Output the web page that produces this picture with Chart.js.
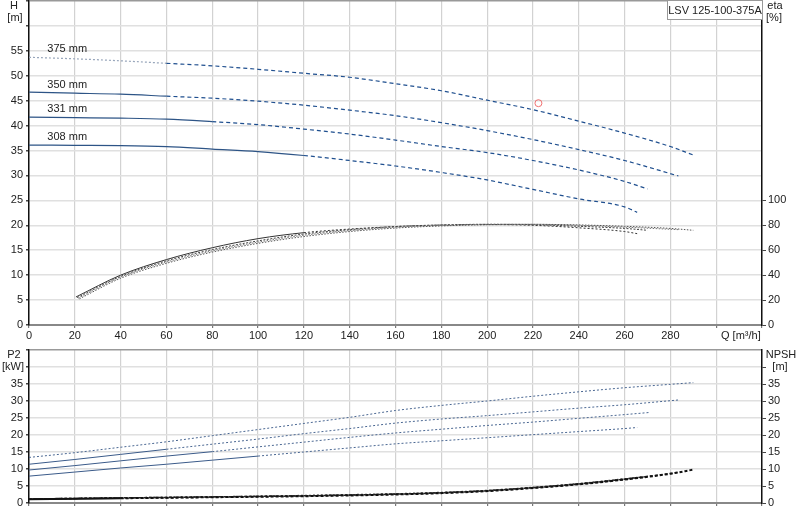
<!DOCTYPE html>
<html>
<head>
<meta charset="utf-8">
<script src="https://cdn.jsdelivr.net/npm/chart.js@4.4.0/dist/chart.umd.min.js"></script>
<style>
body{margin:0;background:#fff;width:800px;height:520px;overflow:hidden;position:relative;font-family:"Liberation Sans",Arial,sans-serif}
#top{position:absolute;left:0;top:0}
#bottom{position:absolute;left:0;top:345px}
#model{position:absolute;left:667px;top:0;width:94px;height:18px;border:1px solid #999;background:#fff;font-size:11px;line-height:18px;text-align:center;color:#222}
</style>
</head>
<body>
<canvas id="top" width="800" height="345"></canvas>
<canvas id="bottom" width="800" height="175"></canvas>
<div id="model">LSV 125-100-375A</div>
<script>
// impeller diameters
const impellers = ["375 mm", "350 mm", "331 mm", "308 mm"];

// head curves, Q [m3/h] -> H [m]
const qH375 = [0,20,40,60,80,100,120,140,160,180,200,220,240,260,280,290];
const h375  = [53.7,53.4,53.0,52.5,52.0,51.3,50.5,49.7,48.4,47.0,45.1,43.2,40.9,38.5,35.8,34.1];
const qH350 = [0,20,40,60,80,100,120,140,160,180,200,220,240,260,283.5];
const h350  = [46.7,46.5,46.3,45.9,45.5,44.9,44.1,43.1,42.0,40.6,39.0,37.2,35.2,33.0,29.9];
const qH331 = [0,20,40,60,80,100,120,140,160,180,200,220,240,260,270];
const h331  = [41.7,41.6,41.5,41.3,40.8,40.2,39.3,38.3,37.1,35.8,34.6,33.0,31.1,28.8,27.3];
const qH308 = [0,20,40,60,80,100,120,140,160,180,200,220,240,260,265.5];
const h308  = [36.1,36.05,36.0,35.8,35.3,34.8,34.0,33.0,31.9,30.6,29.1,27.2,25.3,23.7,22.6];

// efficiency curves [%]
const qE375 = [22,40,60,80,100,120,140,160,180,200,220,240,260,280,290];
const eta375 = [21,37.5,49.5,58.5,65.5,71,75,77.8,79.5,80.5,80.8,80.3,79.2,77.5,76];
const qE350 = [21.5,40,60,80,100,120,140,160,180,200,220,240,260,283.5];
const eta350 = [21.5,38.5,50.5,59.5,66.5,72,75.8,78.5,80,80.8,80.8,80,78.5,76.5];
const qE331 = [21,40,60,80,100,120,140,160,180,200,220,240,260,270];
const eta331 = [22,39,51.5,60.5,67.5,73,76.5,79,80.3,80.8,80.5,79.2,77.5,76];
const qE308 = [20.5,40,60,80,100,120,140,160,180,200,220,240,260,265.5];
const eta308 = [22.5,40,52.5,62,69.3,74.1,77,79,80.2,80.6,80,78,75,73.3];

// shaft power P2 [kW]
const qP375 = [0,20,40,60,80,100,120,140,160,180,200,220,240,260,280,290];
const p375  = [13.4,14.8,16.4,18.0,19.8,21.6,23.4,25.2,27.2,28.7,30.0,31.4,32.7,33.9,34.9,35.4];
const qP350 = [0,20,40,60,80,100,120,140,160,180,200,220,240,260,283.5];
const p350  = [11.4,12.8,14.3,15.8,17.3,18.8,20.4,21.9,23.5,24.7,25.7,26.8,27.9,28.9,30.3];
const qP331 = [0,20,40,60,80,100,120,140,160,180,200,220,240,260,270.5];
const p331  = [9.7,11.0,12.4,13.8,15.1,16.5,17.9,19.3,20.6,21.7,22.8,23.8,24.9,26.0,26.6];
const qP308 = [0,20,40,60,80,100,120,140,160,180,200,220,240,260,265.5];
const p308  = [7.9,9.1,10.3,11.4,12.6,13.8,15.0,16.2,17.4,18.3,19.2,20.1,21.0,21.9,22.2];

// NPSH [m]
const qN375 = [0,40,80,120,160,180,200,220,240,260,280,290];
const n375  = [1.1,1.4,1.7,2.0,2.5,2.9,3.5,4.4,5.5,6.9,8.6,9.8];
const qN350 = [0,40,80,120,160,180,200,220,240,260,283.5];
const n350  = [1.1,1.4,1.7,2.1,2.6,3.0,3.6,4.5,5.6,7.0,9.0];
const qN331 = [0,40,80,120,160,180,200,220,240,260,270];
const n331  = [1.2,1.5,1.8,2.1,2.6,3.0,3.6,4.5,5.6,7.0,7.8];
const qN308 = [0,40,80,120,160,180,200,220,240,260,265.5];
const n308  = [1.2,1.5,1.8,2.2,2.7,3.1,3.7,4.6,5.7,7.1,7.5];

// duty point
const dutyQ = [222.4];
const dutyH = [44.5];

// curve labels
const labelQ = [8, 8, 8, 8];
const labelH = [55.4, 48.2, 43.4, 37.8];

const FONT = {family: '"Liberation Sans", Arial, sans-serif', size: 11};
const TXT = "#222";

function curve(qs, vs, axis, st) {
  return {
    data: qs.map((q, i) => ({x: q, y: vs[i]})),
    yAxisID: axis,
    borderColor: st.color,
    borderWidth: st.width || 1.2,
    borderDash: st.dash,
    pointRadius: 0,
    fill: false,
    cubicInterpolationMode: "monotone",
    segment: {
      borderDash: c => {
        const x = c.p0.parsed.x;
        if (st.lightTo && x < st.lightTo) return [2, 2];
        if (x < (st.solidTo || 0)) return [];
        return st.dash;
      },
      borderColor: c => {
        const x = c.p0.parsed.x;
        if (st.lightTo && x < st.lightTo) return "#98a6bb";
        if (x < (st.solidTo || 0)) return st.solidColor || st.color;
        return st.color;
      }
    }
  };
}

const textPlugin = {
  id: "texts",
  afterDraw(chart, args, opts) {
    const c = chart.ctx;
    c.save();
    c.font = '11px "Liberation Sans", Arial, sans-serif';
    c.fillStyle = TXT;
    c.textBaseline = "middle";
    (opts.items || []).forEach(t => {
      c.textAlign = t.align || "center";
      c.fillText(t.text, t.x, t.y);
    });
    if (opts.curveLabels) {
      c.textAlign = "left";
      impellers.forEach((name, i) => {
        c.fillText(name, chart.scales.x.getPixelForValue(labelQ[i]), chart.scales.y.getPixelForValue(labelH[i]));
      });
    }
    c.restore();
  }
};

const blue = {color: "#1f4f8f", dash: [4, 3], solidColor: "#2d5486"};
const topDatasets = [
  curve(qH375, h375, "y", {...blue, lightTo: 45}),
  curve(qH350, h350, "y", {...blue, solidTo: 45}),
  curve(qH331, h331, "y", {...blue, solidTo: 62}),
  curve(qH308, h308, "y", {...blue, solidTo: 103}),
  curve(qE375, eta375, "eta", {color: "#555", dash: [1.5, 1.5], width: 1}),
  curve(qE350, eta350, "eta", {color: "#777", dash: [1.5, 1.5], width: 1}),
  curve(qE331, eta331, "eta", {color: "#444", dash: [2, 1.5], width: 1}),
  curve(qE308, eta308, "eta", {color: "#333", dash: [2, 2], width: 1, solidTo: 110}),
  {
    data: dutyQ.map((q, i) => ({x: q, y: dutyH[i]})),
    yAxisID: "y",
    showLine: false,
    pointRadius: 3.5,
    pointBorderWidth: 1,
    pointBorderColor: "#f07070",
    pointBackgroundColor: "rgba(255,255,255,0)"
  }
];

const pStyle = {color: "#4a6792", dash: [2, 2], width: 1, solidColor: "#3b5b8a"};
const bottomDatasets = [
  curve(qP375, p375, "y", {...pStyle}),
  curve(qP350, p350, "y", {...pStyle, solidTo: 60}),
  curve(qP331, p331, "y", {...pStyle, solidTo: 80}),
  curve(qP308, p308, "y", {...pStyle, solidTo: 100}),
  curve(qN375, n375, "npsh", {color: "#111", dash: [3, 2], width: 2, solidTo: 35}),
  curve(qN350, n350, "npsh", {color: "#333", dash: [3, 2], width: 1.5, solidTo: 35}),
  curve(qN331, n331, "npsh", {color: "#222", dash: [3, 2], width: 1.5}),
  curve(qN308, n308, "npsh", {color: "#444", dash: [2, 2], width: 1.5})
];

// the label half-heights would otherwise push the plot area inwards
function noPad(s) {
  s.paddingTop = 0; s.paddingBottom = 0; s.paddingLeft = 0; s.paddingRight = 0;
}

function xScale(showLabels, height) {
  return {
    type: "linear", min: 0, max: 320,
    ticks: {stepSize: 20, autoSkip: false, maxRotation: 0, padding: 1, font: FONT, color: TXT,
      callback: v => (showLabels && v <= 280) ? v : ""},
    grid: {color: "#d2d2d2", lineWidth: 1.2, tickLength: 3, tickColor: "#777"},
    border: {color: "#888", width: 2},
    afterFit: s => { s.height = height; noPad(s); }
  };
}

function yLeft(max, lastLabel) {
  return {
    position: "left", min: 0, max: max,
    ticks: {stepSize: 5, padding: 3, font: FONT, color: TXT, callback: v => v <= lastLabel ? v : ""},
    grid: {color: c => c.tick.value === max ? "#999" : "#e0e0e0", lineWidth: 1.5, tickLength: 3, tickColor: "#444"},
    border: {color: "#111", width: 1.5},
    afterFit: s => { s.width = 29; noPad(s); }
  };
}

function yRight(max, step, lastLabel, lastTick) {
  return {
    position: "right", min: 0, max: max,
    ticks: {stepSize: step, padding: 2, font: FONT, color: TXT, callback: v => v <= lastLabel ? v : ""},
    grid: {drawOnChartArea: false, tickLength: 4, tickColor: c => c.tick.value <= lastTick ? "#444" : "rgba(0,0,0,0)"},
    border: {color: "#111", width: 1.5},
    afterFit: s => { s.width = 38; noPad(s); }
  };
}

new Chart(document.getElementById("top"), {
  type: "line",
  data: {datasets: topDatasets},
  options: {
    responsive: false,
    animation: false,
    layout: {autoPadding: false, padding: {top: 1, left: 0, right: 0, bottom: 0}},
    plugins: {
      legend: {display: false},
      tooltip: {enabled: false},
      texts: {
        curveLabels: true,
        items: [
          {text: "H", x: 14, y: 6},
          {text: "[m]", x: 15, y: 18},
          {text: "eta", x: 775, y: 6},
          {text: "[%]", x: 774, y: 18},
          {text: "Q [m\u00b3/h]", x: 721, y: 336, align: "left"}
        ]
      }
    },
    scales: {
      x: xScale(true, 20),
      y: yLeft(65, 55),
      eta: yRight(260, 20, 100, 100)
    }
  },
  plugins: [textPlugin]
});

new Chart(document.getElementById("bottom"), {
  type: "line",
  data: {datasets: bottomDatasets},
  options: {
    responsive: false,
    animation: false,
    layout: {autoPadding: false, padding: {top: 5, left: 0, right: 0, bottom: 0}},
    plugins: {
      legend: {display: false},
      tooltip: {enabled: false},
      texts: {
        items: [
          {text: "P2", x: 14, y: 10},
          {text: "[kW]", x: 13, y: 22},
          {text: "NPSH", x: 781, y: 10},
          {text: "[m]", x: 780, y: 22}
        ]
      }
    },
    scales: {
      x: xScale(false, 17),
      y: yLeft(45, 35),
      npsh: yRight(45, 5, 35, 40)
    }
  },
  plugins: [textPlugin]
});
</script>
</body>
</html>
